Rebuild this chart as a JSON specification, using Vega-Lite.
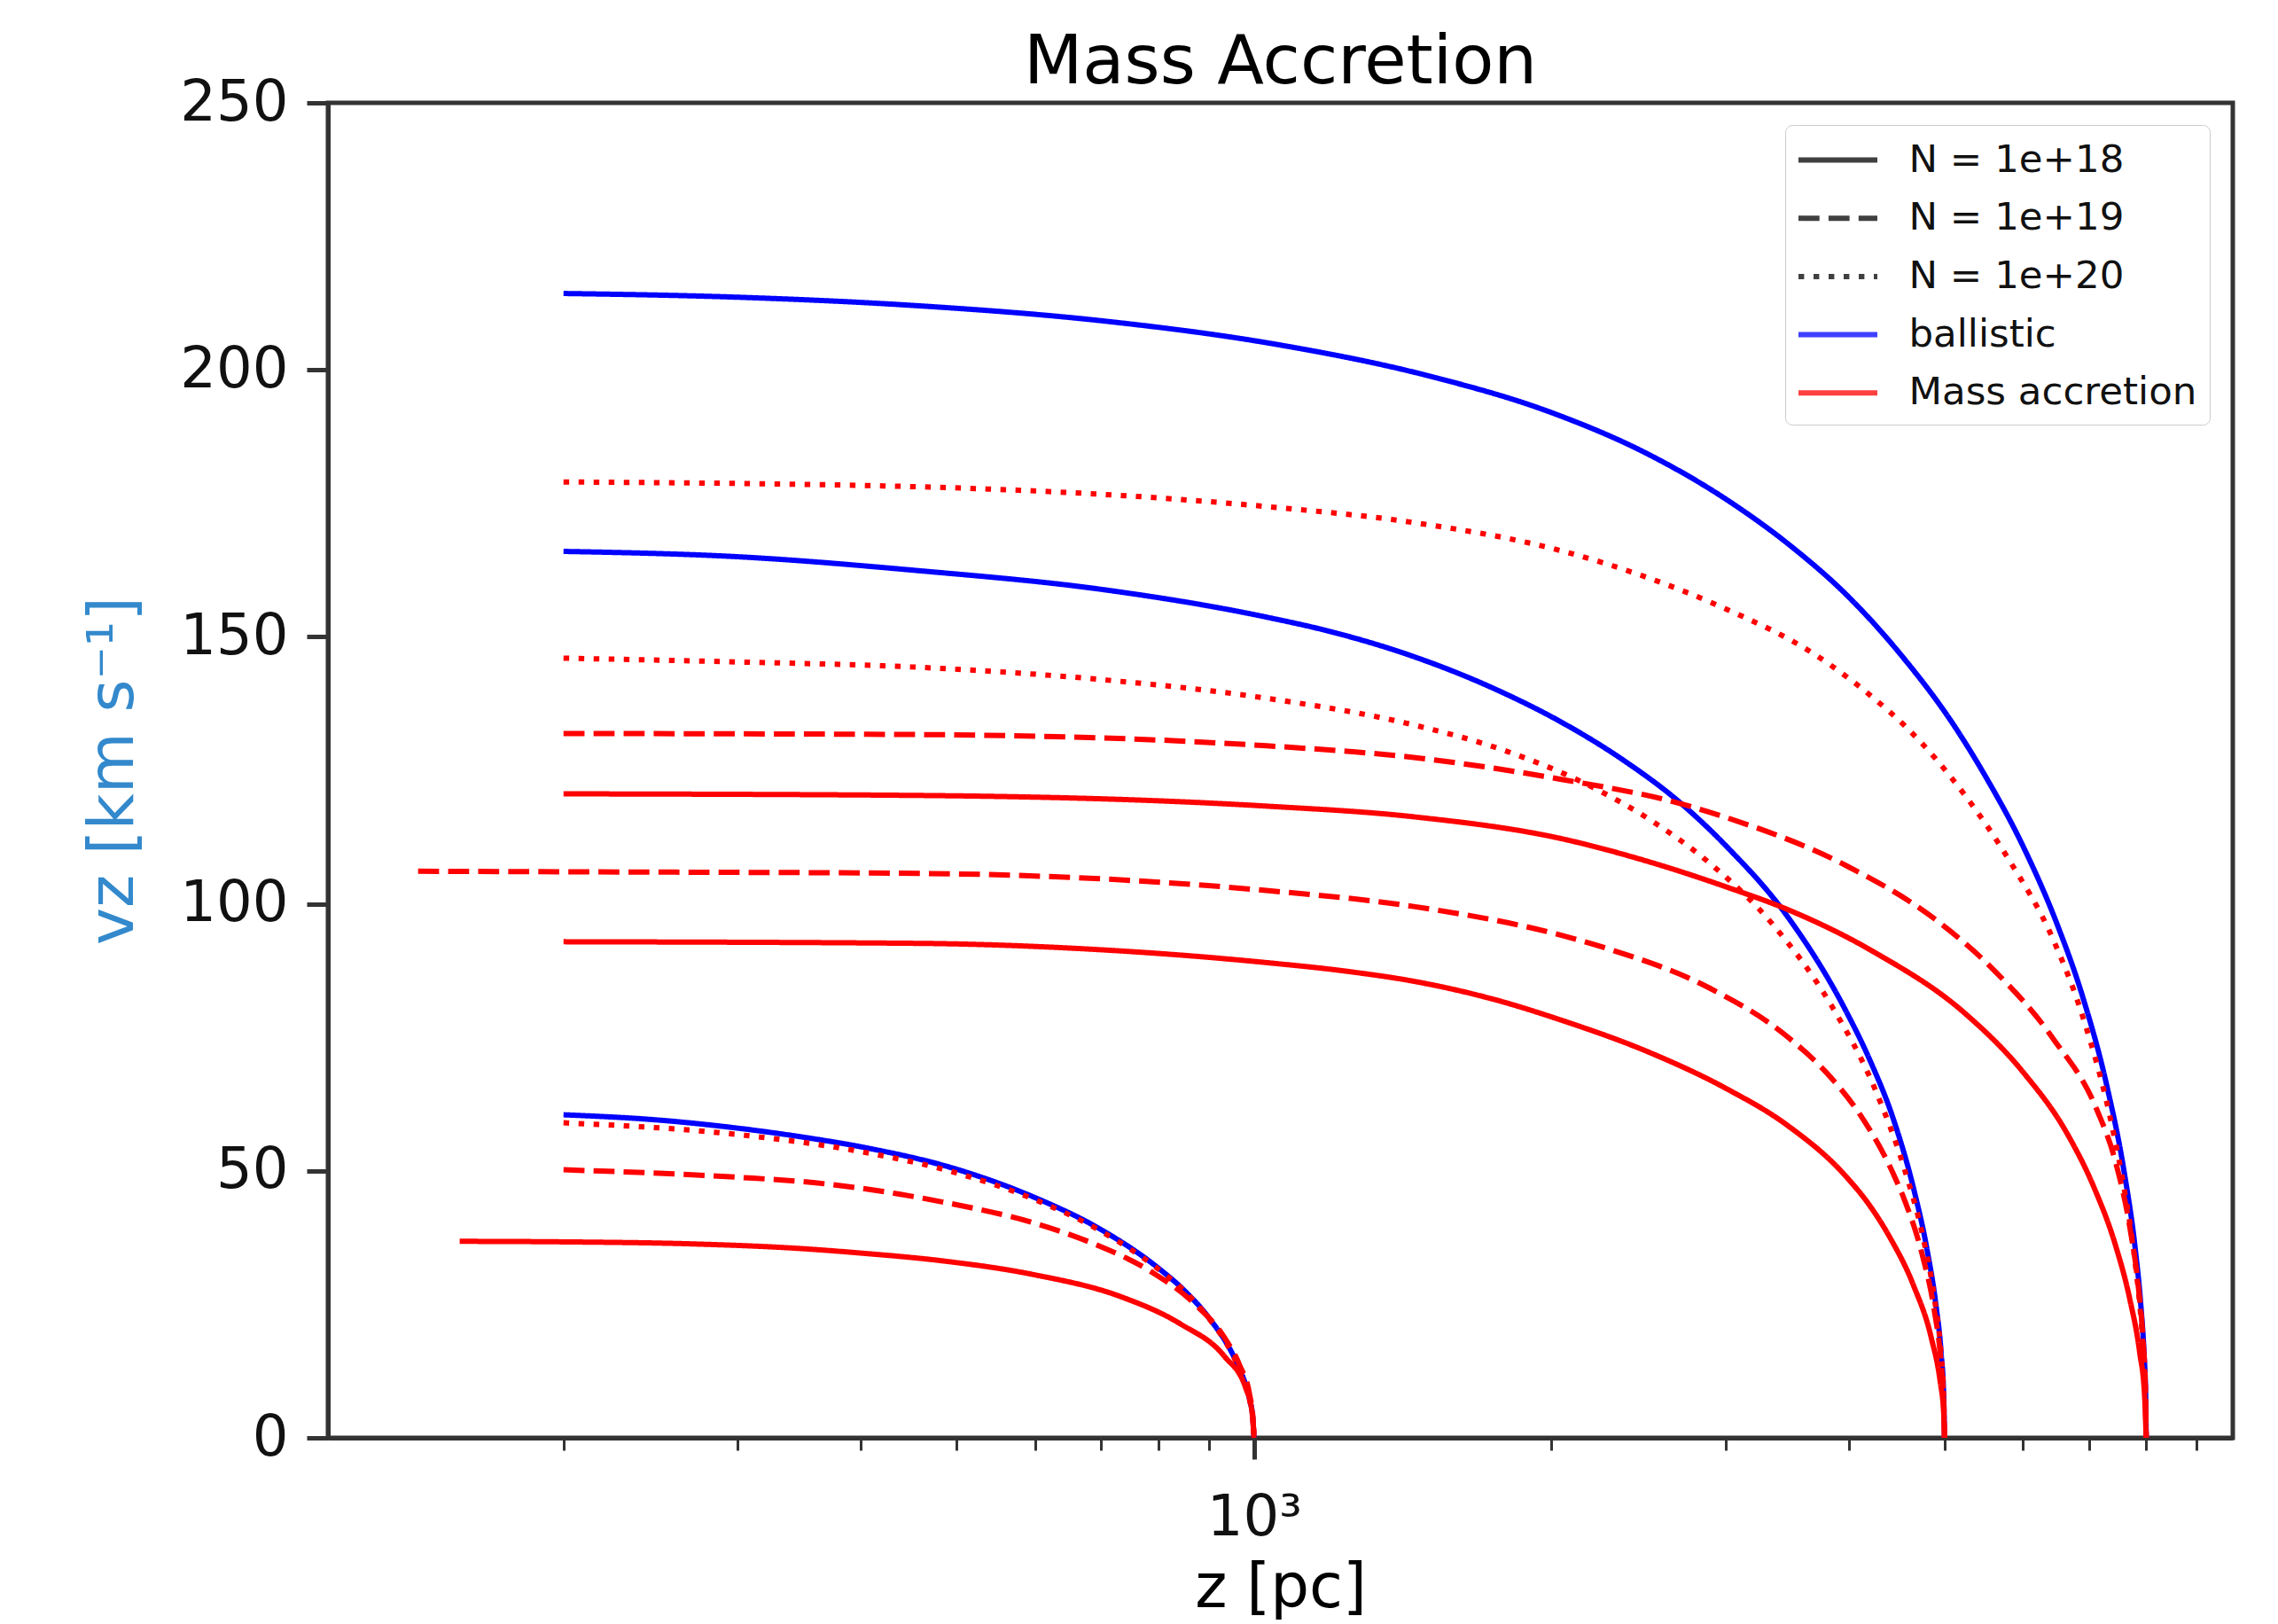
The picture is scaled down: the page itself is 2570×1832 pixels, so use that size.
{
  "$schema": "https://vega.github.io/schema/vega-lite/v6.json",
  "width": 2149,
  "height": 1506,
  "autosize": {"type": "none"},
  "padding": {"left": 370, "top": 116, "right": 51, "bottom": 210},
  "background": "#ffffff",
  "config": {
    "font": "DejaVu Sans",
    "view": {"stroke": "#333333", "strokeWidth": 5},
    "axis": {"grid": false, "domainColor": "#333333", "domainWidth": 5, "tickColor": "#333333", "labelColor": "#111111", "labelFont": "DejaVu Sans", "titleFont": "DejaVu Sans", "titleFontWeight": "normal"}
  },
  "title": {"text": "Mass Accretion", "fontSize": 77, "font": "DejaVu Sans", "fontWeight": "normal", "color": "#000000", "anchor": "middle", "offset": -26},
  "datasets": {
    "blue": [
      {"c": "B1", "m": "ballistic", "d": "solid", "z": 200, "v": 60.5},
      {"c": "B1", "m": "ballistic", "d": "solid", "z": 250, "v": 59.5},
      {"c": "B1", "m": "ballistic", "d": "solid", "z": 300, "v": 58},
      {"c": "B1", "m": "ballistic", "d": "solid", "z": 350, "v": 56.3},
      {"c": "B1", "m": "ballistic", "d": "solid", "z": 400, "v": 54.5},
      {"c": "B1", "m": "ballistic", "d": "solid", "z": 500, "v": 50.3},
      {"c": "B1", "m": "ballistic", "d": "solid", "z": 600, "v": 45},
      {"c": "B1", "m": "ballistic", "d": "solid", "z": 700, "v": 39},
      {"c": "B1", "m": "ballistic", "d": "solid", "z": 800, "v": 31.8},
      {"c": "B1", "m": "ballistic", "d": "solid", "z": 850, "v": 27.6},
      {"c": "B1", "m": "ballistic", "d": "solid", "z": 900, "v": 22.5},
      {"c": "B1", "m": "ballistic", "d": "solid", "z": 950, "v": 15.9},
      {"c": "B1", "m": "ballistic", "d": "solid", "z": 967, "v": 12.9},
      {"c": "B1", "m": "ballistic", "d": "solid", "z": 980, "v": 10.1},
      {"c": "B1", "m": "ballistic", "d": "solid", "z": 990, "v": 7.1},
      {"c": "B1", "m": "ballistic", "d": "solid", "z": 997, "v": 3.9},
      {"c": "B1", "m": "ballistic", "d": "solid", "z": 1000, "v": 0},
      {"c": "B2", "m": "ballistic", "d": "solid", "z": 200, "v": 166},
      {"c": "B2", "m": "ballistic", "d": "solid", "z": 300, "v": 165},
      {"c": "B2", "m": "ballistic", "d": "solid", "z": 457, "v": 162.4},
      {"c": "B2", "m": "ballistic", "d": "solid", "z": 700, "v": 158.9},
      {"c": "B2", "m": "ballistic", "d": "solid", "z": 1029, "v": 153.7},
      {"c": "B2", "m": "ballistic", "d": "solid", "z": 1200, "v": 150.9},
      {"c": "B2", "m": "ballistic", "d": "solid", "z": 1451, "v": 146.3},
      {"c": "B2", "m": "ballistic", "d": "solid", "z": 1750, "v": 140.3},
      {"c": "B2", "m": "ballistic", "d": "solid", "z": 2048, "v": 134},
      {"c": "B2", "m": "ballistic", "d": "solid", "z": 2370, "v": 126.8},
      {"c": "B2", "m": "ballistic", "d": "solid", "z": 2698, "v": 119},
      {"c": "B2", "m": "ballistic", "d": "solid", "z": 3014, "v": 110.6},
      {"c": "B2", "m": "ballistic", "d": "solid", "z": 3462, "v": 97.8},
      {"c": "B2", "m": "ballistic", "d": "solid", "z": 3972, "v": 80},
      {"c": "B2", "m": "ballistic", "d": "solid", "z": 4200, "v": 70.8},
      {"c": "B2", "m": "ballistic", "d": "solid", "z": 4436, "v": 59.8},
      {"c": "B2", "m": "ballistic", "d": "solid", "z": 4655, "v": 46.5},
      {"c": "B2", "m": "ballistic", "d": "solid", "z": 4800, "v": 35.3},
      {"c": "B2", "m": "ballistic", "d": "solid", "z": 4900, "v": 25},
      {"c": "B2", "m": "ballistic", "d": "solid", "z": 4960, "v": 16},
      {"c": "B2", "m": "ballistic", "d": "solid", "z": 4990, "v": 8},
      {"c": "B2", "m": "ballistic", "d": "solid", "z": 5000, "v": 0},
      {"c": "B3", "m": "ballistic", "d": "solid", "z": 200, "v": 214.3},
      {"c": "B3", "m": "ballistic", "d": "solid", "z": 300, "v": 213.6},
      {"c": "B3", "m": "ballistic", "d": "solid", "z": 457, "v": 212},
      {"c": "B3", "m": "ballistic", "d": "solid", "z": 700, "v": 209.2},
      {"c": "B3", "m": "ballistic", "d": "solid", "z": 1051, "v": 204.8},
      {"c": "B3", "m": "ballistic", "d": "solid", "z": 1500, "v": 198.9},
      {"c": "B3", "m": "ballistic", "d": "solid", "z": 2000, "v": 192},
      {"c": "B3", "m": "ballistic", "d": "solid", "z": 2500, "v": 184.3},
      {"c": "B3", "m": "ballistic", "d": "solid", "z": 3020, "v": 175.5},
      {"c": "B3", "m": "ballistic", "d": "solid", "z": 3500, "v": 166.9},
      {"c": "B3", "m": "ballistic", "d": "solid", "z": 3972, "v": 158},
      {"c": "B3", "m": "ballistic", "d": "solid", "z": 4500, "v": 147},
      {"c": "B3", "m": "ballistic", "d": "solid", "z": 5129, "v": 133},
      {"c": "B3", "m": "ballistic", "d": "solid", "z": 5500, "v": 123.9},
      {"c": "B3", "m": "ballistic", "d": "solid", "z": 6004, "v": 110.8},
      {"c": "B3", "m": "ballistic", "d": "solid", "z": 6500, "v": 96.2},
      {"c": "B3", "m": "ballistic", "d": "solid", "z": 6897, "v": 82.7},
      {"c": "B3", "m": "ballistic", "d": "solid", "z": 7300, "v": 65.9},
      {"c": "B3", "m": "ballistic", "d": "solid", "z": 7597, "v": 50},
      {"c": "B3", "m": "ballistic", "d": "solid", "z": 7800, "v": 35.3},
      {"c": "B3", "m": "ballistic", "d": "solid", "z": 7900, "v": 25},
      {"c": "B3", "m": "ballistic", "d": "solid", "z": 7960, "v": 15.9},
      {"c": "B3", "m": "ballistic", "d": "solid", "z": 7990, "v": 8.1},
      {"c": "B3", "m": "ballistic", "d": "solid", "z": 8000, "v": 0}
    ],
    "red": [
      {"c": "R18a", "m": "Mass accretion", "d": "solid", "z": 157, "v": 36.8},
      {"c": "R18a", "m": "Mass accretion", "d": "solid", "z": 200, "v": 36.7},
      {"c": "R18a", "m": "Mass accretion", "d": "solid", "z": 272, "v": 36.3},
      {"c": "R18a", "m": "Mass accretion", "d": "solid", "z": 344, "v": 35.5},
      {"c": "R18a", "m": "Mass accretion", "d": "solid", "z": 400, "v": 34.6},
      {"c": "R18a", "m": "Mass accretion", "d": "solid", "z": 486, "v": 33.1},
      {"c": "R18a", "m": "Mass accretion", "d": "solid", "z": 597, "v": 30.6},
      {"c": "R18a", "m": "Mass accretion", "d": "solid", "z": 734, "v": 26.4},
      {"c": "R18a", "m": "Mass accretion", "d": "solid", "z": 843, "v": 21.3},
      {"c": "R18a", "m": "Mass accretion", "d": "solid", "z": 934, "v": 15.2},
      {"c": "R18a", "m": "Mass accretion", "d": "solid", "z": 981, "v": 9.3},
      {"c": "R18a", "m": "Mass accretion", "d": "solid", "z": 995, "v": 5.1},
      {"c": "R18a", "m": "Mass accretion", "d": "solid", "z": 1000, "v": 0},
      {"c": "R19a", "m": "Mass accretion", "d": "dashed", "z": 200, "v": 50.2},
      {"c": "R19a", "m": "Mass accretion", "d": "dashed", "z": 300, "v": 48.8},
      {"c": "R19a", "m": "Mass accretion", "d": "dashed", "z": 358, "v": 47.8},
      {"c": "R19a", "m": "Mass accretion", "d": "dashed", "z": 486, "v": 44.1},
      {"c": "R19a", "m": "Mass accretion", "d": "dashed", "z": 597, "v": 40.3},
      {"c": "R19a", "m": "Mass accretion", "d": "dashed", "z": 685, "v": 36.5},
      {"c": "R19a", "m": "Mass accretion", "d": "dashed", "z": 787, "v": 31.1},
      {"c": "R19a", "m": "Mass accretion", "d": "dashed", "z": 872, "v": 25},
      {"c": "R19a", "m": "Mass accretion", "d": "dashed", "z": 934, "v": 18.7},
      {"c": "R19a", "m": "Mass accretion", "d": "dashed", "z": 967, "v": 13.6},
      {"c": "R19a", "m": "Mass accretion", "d": "dashed", "z": 990, "v": 8},
      {"c": "R19a", "m": "Mass accretion", "d": "dashed", "z": 997, "v": 4.2},
      {"c": "R19a", "m": "Mass accretion", "d": "dashed", "z": 1000, "v": 0},
      {"c": "R20a", "m": "Mass accretion", "d": "dotted", "z": 200, "v": 59},
      {"c": "R20a", "m": "Mass accretion", "d": "dotted", "z": 300, "v": 56.8},
      {"c": "R20a", "m": "Mass accretion", "d": "dotted", "z": 400, "v": 53.6},
      {"c": "R20a", "m": "Mass accretion", "d": "dotted", "z": 500, "v": 49.6},
      {"c": "R20a", "m": "Mass accretion", "d": "dotted", "z": 600, "v": 44.6},
      {"c": "R20a", "m": "Mass accretion", "d": "dotted", "z": 700, "v": 38.7},
      {"c": "R20a", "m": "Mass accretion", "d": "dotted", "z": 800, "v": 31.6},
      {"c": "R20a", "m": "Mass accretion", "d": "dotted", "z": 850, "v": 27.5},
      {"c": "R20a", "m": "Mass accretion", "d": "dotted", "z": 900, "v": 22.4},
      {"c": "R20a", "m": "Mass accretion", "d": "dotted", "z": 950, "v": 15.8},
      {"c": "R20a", "m": "Mass accretion", "d": "dotted", "z": 967, "v": 12.8},
      {"c": "R20a", "m": "Mass accretion", "d": "dotted", "z": 980, "v": 10},
      {"c": "R20a", "m": "Mass accretion", "d": "dotted", "z": 990, "v": 7},
      {"c": "R20a", "m": "Mass accretion", "d": "dotted", "z": 997, "v": 3.9},
      {"c": "R20a", "m": "Mass accretion", "d": "dotted", "z": 1000, "v": 0},
      {"c": "R18b", "m": "Mass accretion", "d": "solid", "z": 200, "v": 92.9},
      {"c": "R18b", "m": "Mass accretion", "d": "solid", "z": 457, "v": 92.6},
      {"c": "R18b", "m": "Mass accretion", "d": "solid", "z": 700, "v": 91.4},
      {"c": "R18b", "m": "Mass accretion", "d": "solid", "z": 1029, "v": 89},
      {"c": "R18b", "m": "Mass accretion", "d": "solid", "z": 1250, "v": 87.3},
      {"c": "R18b", "m": "Mass accretion", "d": "solid", "z": 1451, "v": 85.5},
      {"c": "R18b", "m": "Mass accretion", "d": "solid", "z": 1750, "v": 82.1},
      {"c": "R18b", "m": "Mass accretion", "d": "solid", "z": 2048, "v": 78.2},
      {"c": "R18b", "m": "Mass accretion", "d": "solid", "z": 2519, "v": 72.1},
      {"c": "R18b", "m": "Mass accretion", "d": "solid", "z": 3014, "v": 65.3},
      {"c": "R18b", "m": "Mass accretion", "d": "solid", "z": 3462, "v": 58.6},
      {"c": "R18b", "m": "Mass accretion", "d": "solid", "z": 3972, "v": 49},
      {"c": "R18b", "m": "Mass accretion", "d": "solid", "z": 4200, "v": 43.5},
      {"c": "R18b", "m": "Mass accretion", "d": "solid", "z": 4400, "v": 37.6},
      {"c": "R18b", "m": "Mass accretion", "d": "solid", "z": 4650, "v": 28.6},
      {"c": "R18b", "m": "Mass accretion", "d": "solid", "z": 4850, "v": 18.6},
      {"c": "R18b", "m": "Mass accretion", "d": "solid", "z": 4950, "v": 10.5},
      {"c": "R18b", "m": "Mass accretion", "d": "solid", "z": 4990, "v": 4.8},
      {"c": "R18b", "m": "Mass accretion", "d": "solid", "z": 5000, "v": 0},
      {"c": "R19b", "m": "Mass accretion", "d": "dashed", "z": 142.5, "v": 106.1},
      {"c": "R19b", "m": "Mass accretion", "d": "dashed", "z": 200, "v": 106},
      {"c": "R19b", "m": "Mass accretion", "d": "dashed", "z": 457, "v": 105.7},
      {"c": "R19b", "m": "Mass accretion", "d": "dashed", "z": 1029, "v": 102.5},
      {"c": "R19b", "m": "Mass accretion", "d": "dashed", "z": 1451, "v": 99.5},
      {"c": "R19b", "m": "Mass accretion", "d": "dashed", "z": 2048, "v": 94.1},
      {"c": "R19b", "m": "Mass accretion", "d": "dashed", "z": 2272, "v": 91.7},
      {"c": "R19b", "m": "Mass accretion", "d": "dashed", "z": 2893, "v": 84.2},
      {"c": "R19b", "m": "Mass accretion", "d": "dashed", "z": 3462, "v": 75.2},
      {"c": "R19b", "m": "Mass accretion", "d": "dashed", "z": 3840, "v": 67.4},
      {"c": "R19b", "m": "Mass accretion", "d": "dashed", "z": 4111, "v": 60.4},
      {"c": "R19b", "m": "Mass accretion", "d": "dashed", "z": 4436, "v": 49.5},
      {"c": "R19b", "m": "Mass accretion", "d": "dashed", "z": 4560, "v": 44.3},
      {"c": "R19b", "m": "Mass accretion", "d": "dashed", "z": 4750, "v": 34.1},
      {"c": "R19b", "m": "Mass accretion", "d": "dashed", "z": 4880, "v": 24.1},
      {"c": "R19b", "m": "Mass accretion", "d": "dashed", "z": 4960, "v": 14},
      {"c": "R19b", "m": "Mass accretion", "d": "dashed", "z": 4990, "v": 6.9},
      {"c": "R19b", "m": "Mass accretion", "d": "dashed", "z": 5000, "v": 0},
      {"c": "R20b", "m": "Mass accretion", "d": "dotted", "z": 200, "v": 146},
      {"c": "R20b", "m": "Mass accretion", "d": "dotted", "z": 300, "v": 145.3},
      {"c": "R20b", "m": "Mass accretion", "d": "dotted", "z": 457, "v": 144.3},
      {"c": "R20b", "m": "Mass accretion", "d": "dotted", "z": 700, "v": 142},
      {"c": "R20b", "m": "Mass accretion", "d": "dotted", "z": 1029, "v": 138.5},
      {"c": "R20b", "m": "Mass accretion", "d": "dotted", "z": 1451, "v": 133.5},
      {"c": "R20b", "m": "Mass accretion", "d": "dotted", "z": 1787, "v": 128.8},
      {"c": "R20b", "m": "Mass accretion", "d": "dotted", "z": 2198, "v": 121.9},
      {"c": "R20b", "m": "Mass accretion", "d": "dotted", "z": 2519, "v": 115.7},
      {"c": "R20b", "m": "Mass accretion", "d": "dotted", "z": 2893, "v": 107.6},
      {"c": "R20b", "m": "Mass accretion", "d": "dotted", "z": 3345, "v": 96.3},
      {"c": "R20b", "m": "Mass accretion", "d": "dotted", "z": 3840, "v": 81},
      {"c": "R20b", "m": "Mass accretion", "d": "dotted", "z": 4259, "v": 65},
      {"c": "R20b", "m": "Mass accretion", "d": "dotted", "z": 4560, "v": 50},
      {"c": "R20b", "m": "Mass accretion", "d": "dotted", "z": 4750, "v": 38},
      {"c": "R20b", "m": "Mass accretion", "d": "dotted", "z": 4880, "v": 26.5},
      {"c": "R20b", "m": "Mass accretion", "d": "dotted", "z": 4960, "v": 15.5},
      {"c": "R20b", "m": "Mass accretion", "d": "dotted", "z": 4990, "v": 7.8},
      {"c": "R20b", "m": "Mass accretion", "d": "dotted", "z": 5000, "v": 0},
      {"c": "R18c", "m": "Mass accretion", "d": "solid", "z": 200, "v": 120.6},
      {"c": "R18c", "m": "Mass accretion", "d": "solid", "z": 457, "v": 120.3},
      {"c": "R18c", "m": "Mass accretion", "d": "solid", "z": 1029, "v": 118.3},
      {"c": "R18c", "m": "Mass accretion", "d": "solid", "z": 1451, "v": 116.3},
      {"c": "R18c", "m": "Mass accretion", "d": "solid", "z": 2048, "v": 112.2},
      {"c": "R18c", "m": "Mass accretion", "d": "solid", "z": 2519, "v": 107.8},
      {"c": "R18c", "m": "Mass accretion", "d": "solid", "z": 3014, "v": 103.1},
      {"c": "R18c", "m": "Mass accretion", "d": "solid", "z": 3462, "v": 99},
      {"c": "R18c", "m": "Mass accretion", "d": "solid", "z": 4259, "v": 90.8},
      {"c": "R18c", "m": "Mass accretion", "d": "solid", "z": 5236, "v": 79.6},
      {"c": "R18c", "m": "Mass accretion", "d": "solid", "z": 6004, "v": 68.5},
      {"c": "R18c", "m": "Mass accretion", "d": "solid", "z": 6658, "v": 56.9},
      {"c": "R18c", "m": "Mass accretion", "d": "solid", "z": 7084, "v": 46.9},
      {"c": "R18c", "m": "Mass accretion", "d": "solid", "z": 7450, "v": 36},
      {"c": "R18c", "m": "Mass accretion", "d": "solid", "z": 7700, "v": 26},
      {"c": "R18c", "m": "Mass accretion", "d": "solid", "z": 7880, "v": 16},
      {"c": "R18c", "m": "Mass accretion", "d": "solid", "z": 7970, "v": 8},
      {"c": "R18c", "m": "Mass accretion", "d": "solid", "z": 8000, "v": 0},
      {"c": "R19c", "m": "Mass accretion", "d": "dashed", "z": 200, "v": 131.9},
      {"c": "R19c", "m": "Mass accretion", "d": "dashed", "z": 457, "v": 131.7},
      {"c": "R19c", "m": "Mass accretion", "d": "dashed", "z": 1029, "v": 129.6},
      {"c": "R19c", "m": "Mass accretion", "d": "dashed", "z": 1451, "v": 127.4},
      {"c": "R19c", "m": "Mass accretion", "d": "dashed", "z": 2048, "v": 123.3},
      {"c": "R19c", "m": "Mass accretion", "d": "dashed", "z": 2698, "v": 118.8},
      {"c": "R19c", "m": "Mass accretion", "d": "dashed", "z": 3014, "v": 116.1},
      {"c": "R19c", "m": "Mass accretion", "d": "dashed", "z": 3972, "v": 107.2},
      {"c": "R19c", "m": "Mass accretion", "d": "dashed", "z": 4884, "v": 97.2},
      {"c": "R19c", "m": "Mass accretion", "d": "dashed", "z": 5609, "v": 87.6},
      {"c": "R19c", "m": "Mass accretion", "d": "dashed", "z": 6438, "v": 74.8},
      {"c": "R19c", "m": "Mass accretion", "d": "dashed", "z": 7137, "v": 61.3},
      {"c": "R19c", "m": "Mass accretion", "d": "dashed", "z": 7446, "v": 51.8},
      {"c": "R19c", "m": "Mass accretion", "d": "dashed", "z": 7700, "v": 39.5},
      {"c": "R19c", "m": "Mass accretion", "d": "dashed", "z": 7850, "v": 28.8},
      {"c": "R19c", "m": "Mass accretion", "d": "dashed", "z": 7940, "v": 18.6},
      {"c": "R19c", "m": "Mass accretion", "d": "dashed", "z": 7985, "v": 9.5},
      {"c": "R19c", "m": "Mass accretion", "d": "dashed", "z": 8000, "v": 0},
      {"c": "R20c", "m": "Mass accretion", "d": "dotted", "z": 200, "v": 179},
      {"c": "R20c", "m": "Mass accretion", "d": "dotted", "z": 457, "v": 178.1},
      {"c": "R20c", "m": "Mass accretion", "d": "dotted", "z": 1029, "v": 174.4},
      {"c": "R20c", "m": "Mass accretion", "d": "dotted", "z": 1451, "v": 171.4},
      {"c": "R20c", "m": "Mass accretion", "d": "dotted", "z": 2048, "v": 166.1},
      {"c": "R20c", "m": "Mass accretion", "d": "dotted", "z": 2519, "v": 160.9},
      {"c": "R20c", "m": "Mass accretion", "d": "dotted", "z": 2972, "v": 155.6},
      {"c": "R20c", "m": "Mass accretion", "d": "dotted", "z": 3709, "v": 146.5},
      {"c": "R20c", "m": "Mass accretion", "d": "dotted", "z": 4259, "v": 138.2},
      {"c": "R20c", "m": "Mass accretion", "d": "dotted", "z": 4560, "v": 133.3},
      {"c": "R20c", "m": "Mass accretion", "d": "dotted", "z": 5236, "v": 120.5},
      {"c": "R20c", "m": "Mass accretion", "d": "dotted", "z": 5808, "v": 108.3},
      {"c": "R20c", "m": "Mass accretion", "d": "dotted", "z": 6438, "v": 93.4},
      {"c": "R20c", "m": "Mass accretion", "d": "dotted", "z": 6897, "v": 79},
      {"c": "R20c", "m": "Mass accretion", "d": "dotted", "z": 7386, "v": 58.5},
      {"c": "R20c", "m": "Mass accretion", "d": "dotted", "z": 7600, "v": 46.7},
      {"c": "R20c", "m": "Mass accretion", "d": "dotted", "z": 7800, "v": 32.6},
      {"c": "R20c", "m": "Mass accretion", "d": "dotted", "z": 7900, "v": 22.8},
      {"c": "R20c", "m": "Mass accretion", "d": "dotted", "z": 7960, "v": 14.2},
      {"c": "R20c", "m": "Mass accretion", "d": "dotted", "z": 7990, "v": 7},
      {"c": "R20c", "m": "Mass accretion", "d": "dotted", "z": 8000, "v": 0}
    ],
    "legend": [
      {"entry": "N = 1e+18"},
      {"entry": "N = 1e+19"},
      {"entry": "N = 1e+20"},
      {"entry": "ballistic"},
      {"entry": "Mass accretion"}
    ]
  },
  "layer": [
    {
      "data": {"name": "blue"},
      "mark": {"type": "line", "strokeWidth": 6, "interpolate": "monotone"},
      "encoding": {
        "x": {"field": "z", "type": "quantitative", "scale": {"type": "log", "domain": [115.5, 9790], "nice": false},
          "axis": {"orient": "bottom", "values": [1000], "labelExpr": "datum.value == 1000 ? '10³' : ''", "title": "z [pc]", "titleFontSize": 69, "titleColor": "#000000", "labelFontSize": 64, "tickSize": 24, "tickWidth": 5, "labelPadding": 34, "titlePadding": 13, "labelFlush": false}},
        "y": {"field": "v", "type": "quantitative", "scale": {"domain": [0, 250], "nice": false, "zero": true},
          "axis": {"values": [0, 50, 100, 150, 200, 250], "title": "vz [km s⁻¹]", "titleColor": "#3389cc", "titleFontSize": 71, "labelFontSize": 64, "tickSize": 24, "tickWidth": 5, "labelPadding": 21, "titlePadding": 38, "labelFlush": false}},
        "color": {"field": "m", "type": "nominal", "scale": {"domain": ["ballistic", "Mass accretion"], "range": ["#0000ff", "#ff0000"]}, "legend": null},
        "strokeDash": {"field": "d", "type": "nominal", "scale": {"domain": ["solid", "dashed", "dotted"], "range": [[1, 0], [23.7, 10.2], [6.4, 10.6]]}, "legend": null},
        "detail": {"field": "c", "type": "nominal"}
      }
    },
    {
      "data": {"name": "red"},
      "mark": {"type": "line", "strokeWidth": 6, "interpolate": "monotone"},
      "encoding": {
        "x": {"field": "z", "type": "quantitative", "scale": {"type": "log", "domain": [115.5, 9790], "nice": false},
          "axis": {"orient": "bottom", "values": [200, 300, 400, 500, 600, 700, 800, 900, 2000, 3000, 4000, 5000, 6000, 7000, 8000, 9000], "labels": false, "title": null, "domain": false, "tickSize": 14, "tickWidth": 3}},
        "y": {"field": "v", "type": "quantitative", "scale": {"domain": [0, 250], "nice": false, "zero": true},
          "axis": {"values": [0, 50, 100, 150, 200, 250], "title": "vz [km s⁻¹]", "titleColor": "#3389cc", "titleFontSize": 71, "labelFontSize": 64, "tickSize": 24, "tickWidth": 5, "labelPadding": 21, "titlePadding": 38, "labelFlush": false}},
        "color": {"field": "m", "type": "nominal", "scale": {"domain": ["ballistic", "Mass accretion"], "range": ["#0000ff", "#ff0000"]}, "legend": null},
        "strokeDash": {"field": "d", "type": "nominal", "scale": {"domain": ["solid", "dashed", "dotted"], "range": [[1, 0], [23.7, 10.2], [6.4, 10.6]]}, "legend": null},
        "detail": {"field": "c", "type": "nominal"}
      }
    },
    {
      "data": {"name": "legend"},
      "mark": {"type": "line", "strokeWidth": 6},
      "encoding": {
        "color": {"field": "entry", "type": "nominal",
          "scale": {"domain": ["N = 1e+18", "N = 1e+19", "N = 1e+20", "ballistic", "Mass accretion"], "range": ["#404040", "#404040", "#404040", "#4040ff", "#ff4040"]},
          "legend": {"title": null, "orient": "none", "legendX": 1644, "legendY": 25, "symbolType": "M-2,0H2", "symbolSize": 1980, "symbolStrokeWidth": 6, "labelFontSize": 43.5, "labelFont": "DejaVu Sans", "labelColor": "#111111", "labelLimit": 1000, "rowPadding": 18.7, "padding": 14, "symbolOffset": 20, "labelOffset": 54.5, "strokeColor": "#cccccc", "fillColor": "#ffffff", "cornerRadius": 8}},
        "strokeDash": {"field": "entry", "type": "nominal",
          "scale": {"domain": ["N = 1e+18", "N = 1e+19", "N = 1e+20", "ballistic", "Mass accretion"], "range": [[1, 0], [23.7, 10.2], [6.4, 10.6], [1, 0], [1, 0]]},
          "legend": {"title": null, "orient": "none", "legendX": 1644, "legendY": 25, "symbolType": "M-2,0H2", "symbolSize": 1980, "symbolStrokeWidth": 6, "labelFontSize": 43.5, "labelFont": "DejaVu Sans", "labelColor": "#111111", "labelLimit": 1000, "rowPadding": 18.7, "padding": 14, "symbolOffset": 20, "labelOffset": 54.5, "strokeColor": "#cccccc", "fillColor": "#ffffff", "cornerRadius": 8}}
      }
    }
  ],
  "resolve": {"axis": {"x": "independent"}, "scale": {"color": "independent", "strokeDash": "independent"}}
}
